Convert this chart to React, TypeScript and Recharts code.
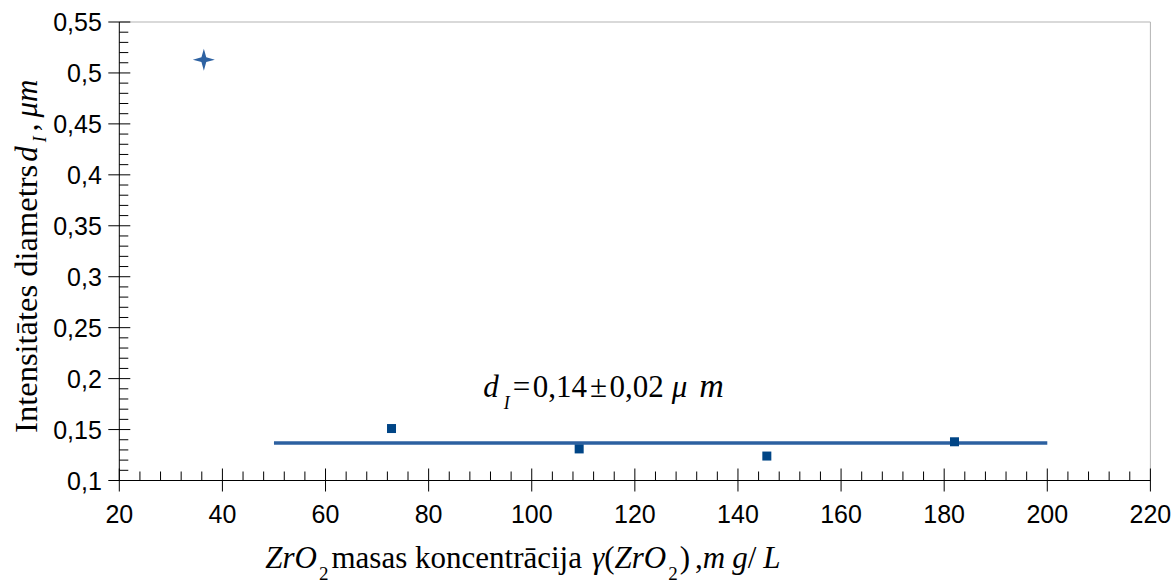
import React from 'react';
import { ComposedChart, XAxis, YAxis, Scatter, ReferenceLine, ReferenceDot } from 'recharts';

if (typeof document !== 'undefined') {
  document.body.style.margin = '0';
}

// axis tick values (major), minors are subdivisions of them
const xMajorTicks = [20, 40, 60, 80, 100, 120, 140, 160, 180, 200, 220];
const yMajorTicks = [0.1, 0.15, 0.2, 0.25, 0.3, 0.35, 0.4, 0.45, 0.5, 0.55];
const minorDivisions = 5;

// outlier point (star marker)
const outlierConcentration = [36.4];
const outlierDiameter = [0.513];

// measured points (square markers)
const concentrations = [72.8, 109.2, 145.6, 182.0];
const diameters = [0.151, 0.131, 0.124, 0.138];

// mean value line
const fitRange = [50, 200];
const fitValue = 0.1367;

// annotation anchor (data coordinates)
const annotationX = 90.6;
const annotationY = 0.1818;

const makeMinor = (majors: number[]) => {
  const out: number[] = [];
  for (let i = 0; i < majors.length - 1; i++) {
    const step = (majors[i + 1] - majors[i]) / minorDivisions;
    for (let k = 0; k < minorDivisions; k++) out.push(Math.round((majors[i] + k * step) * 10000) / 10000);
  }
  out.push(majors[majors.length - 1]);
  return out;
};
const xTicks = makeMinor(xMajorTicks);
const yTicks = makeMinor(yMajorTicks);
const isMajor = (v: number, majors: number[]) => majors.some((m) => Math.abs(m - v) < 1e-6);

const outlierData = outlierConcentration.map((x, i) => ({ x, y: outlierDiameter[i] }));
const mainData = concentrations.map((x, i) => ({ x, y: diameters[i] }));

const SANS = '"Liberation Sans", Arial, sans-serif';
const SERIF = '"Liberation Serif", "Times New Roman", serif';
const AXIS = '#000000';

const XTick = (props: any) => {
  const { x, y, payload } = props;
  const v = payload.value;
  const major = isMajor(v, xMajorTicks);
  return (
    <g>
      <line x1={x} x2={x} y1={major ? y - 12 : y - 9} y2={major ? y + 11 : y} stroke={AXIS} strokeWidth={1} />
      {major && (
        <text x={x} y={y + 42.5} textAnchor="middle" fontFamily={SANS} fontSize={25} fill="#000">
          {String(v)}
        </text>
      )}
    </g>
  );
};

const YTick = (props: any) => {
  const { x, y, payload } = props;
  const v = payload.value;
  const major = isMajor(v, yMajorTicks);
  return (
    <g>
      <line x1={major ? x - 11 : x} x2={major ? x + 11 : x + 9} y1={y} y2={y} stroke={AXIS} strokeWidth={1} />
      {major && (
        <text x={x - 17.5} y={y + 9} textAnchor="end" fontFamily={SANS} fontSize={25} fill="#000">
          {String(Number(v.toFixed(2))).replace('.', ',')}
        </text>
      )}
    </g>
  );
};

const StarShape = (props: any) => {
  const { cx, cy } = props;
  const R = 11;
  const r = 2.4;
  const d = `M${cx},${cy - R} L${cx + r},${cy - r} L${cx + R},${cy} L${cx + r},${cy + r} L${cx},${cy + R} L${cx - r},${cy + r} L${cx - R},${cy} L${cx - r},${cy - r} Z`;
  return <path d={d} fill="#2e62a2" />;
};

const SquareShape = (props: any) => {
  const { cx, cy } = props;
  return <rect x={cx - 4.5} y={cy - 4.5} width={9} height={9} fill="#004586" />;
};

const AnnotationShape = (props: any) => {
  const { cx, cy } = props;
  return (
    <text x={cx} y={cy} fontFamily={SERIF} fontSize={31} fill="#000">
      <tspan fontStyle="italic">d</tspan>
      <tspan fontStyle="italic" fontSize={18} dx={5} dy={12}>I</tspan>
      <tspan dy={-12} dx={3}>=</tspan>
      <tspan dx={2.5}>0,14</tspan>
      <tspan dx={3}>±</tspan>
      <tspan dx={2.5}>0,02</tspan>
      <tspan fontStyle="italic" dx={8}>μ</tspan>
      <tspan fontStyle="italic" fontSize={34} dx={12}>m</tspan>
    </text>
  );
};

const XTitle = (props: any) => {
  const vb = props.viewBox || { x: 0, y: 0, width: 0, height: 0 };
  const x0 = vb.x + 146;
  const y0 = vb.y + 87.5;
  return (
    <text x={x0} y={y0} fontFamily={SERIF} fontSize={31} fill="#000">
      <tspan fontStyle="italic">ZrO</tspan>
      <tspan fontSize={19} dx={2} dy={12}>2</tspan>
      <tspan dy={-12} dx={3}>masas koncentrācija</tspan>
      <tspan fontStyle="italic" dx={10}>γ</tspan>
      <tspan>(</tspan>
      <tspan fontStyle="italic">ZrO</tspan>
      <tspan fontSize={19} dx={2} dy={12}>2</tspan>
      <tspan dy={-12} dx={2}>)</tspan>
      <tspan dx={5}>,</tspan>
      <tspan fontStyle="italic">m</tspan>
      <tspan fontStyle="italic" dx={7}>g</tspan>
      <tspan>/</tspan>
      <tspan fontStyle="italic" dx={7}>L</tspan>
    </text>
  );
};

const YTitle = (props: any) => {
  const vb = props.viewBox || { x: 0, y: 0, width: 0, height: 0 };
  const cx = vb.x + 36.5;
  const cy = vb.y + vb.height / 2 + 5;
  return (
    <text x={cx} y={cy} transform={`rotate(-90 ${cx} ${cy})`} textAnchor="middle" fontFamily={SERIF} fontSize={31} fill="#000">
      <tspan fontSize={32.5}>Intensitātes diametrs</tspan>
      <tspan fontStyle="italic" dx={3}>d</tspan>
      <tspan fontStyle="italic" fontSize={18} dx={4} dy={9}>I</tspan>
      <tspan dy={-9} dx={5}>,</tspan>
      <tspan fontStyle="italic" dx={6}>μm</tspan>
    </text>
  );
};

export default function App() {
  return (
    <ComposedChart width={1175} height={585} margin={{ top: 22, right: 24.6, bottom: 44.5, left: 0 }}>
      <XAxis
        type="number"
        dataKey="x"
        domain={[20, 220]}
        ticks={xTicks}
        interval={0}
        tickLine={false}
        tickSize={0}
        tickMargin={0}
        tick={(p: any) => <XTick {...p} />}
        axisLine={{ stroke: AXIS, strokeWidth: 1 }}
        height={60}
        label={(p: any) => <XTitle {...p} />}
      />
      <YAxis
        type="number"
        dataKey="y"
        domain={[0.1, 0.55]}
        ticks={yTicks}
        interval={0}
        tickLine={false}
        tickSize={0}
        tickMargin={0}
        tick={(p: any) => <YTick {...p} />}
        axisLine={{ stroke: AXIS, strokeWidth: 1 }}
        width={119.3}
        label={(p: any) => <YTitle {...p} />}
      />
      <ReferenceLine y={0.55} stroke="#b3b3b3" strokeWidth={1} />
      <ReferenceLine x={220} stroke="#b3b3b3" strokeWidth={1} />
      <ReferenceLine
        segment={[{ x: fitRange[0], y: fitValue }, { x: fitRange[1], y: fitValue }]}
        stroke="#2c60a0"
        strokeWidth={3.5}
      />
      <Scatter data={outlierData} dataKey="y" shape={(p: any) => <StarShape {...p} />} isAnimationActive={false} />
      <Scatter data={mainData} dataKey="y" shape={(p: any) => <SquareShape {...p} />} isAnimationActive={false} />
      <ReferenceDot x={annotationX} y={annotationY} r={0} shape={(p: any) => <AnnotationShape {...p} />} />
    </ComposedChart>
  );
}
